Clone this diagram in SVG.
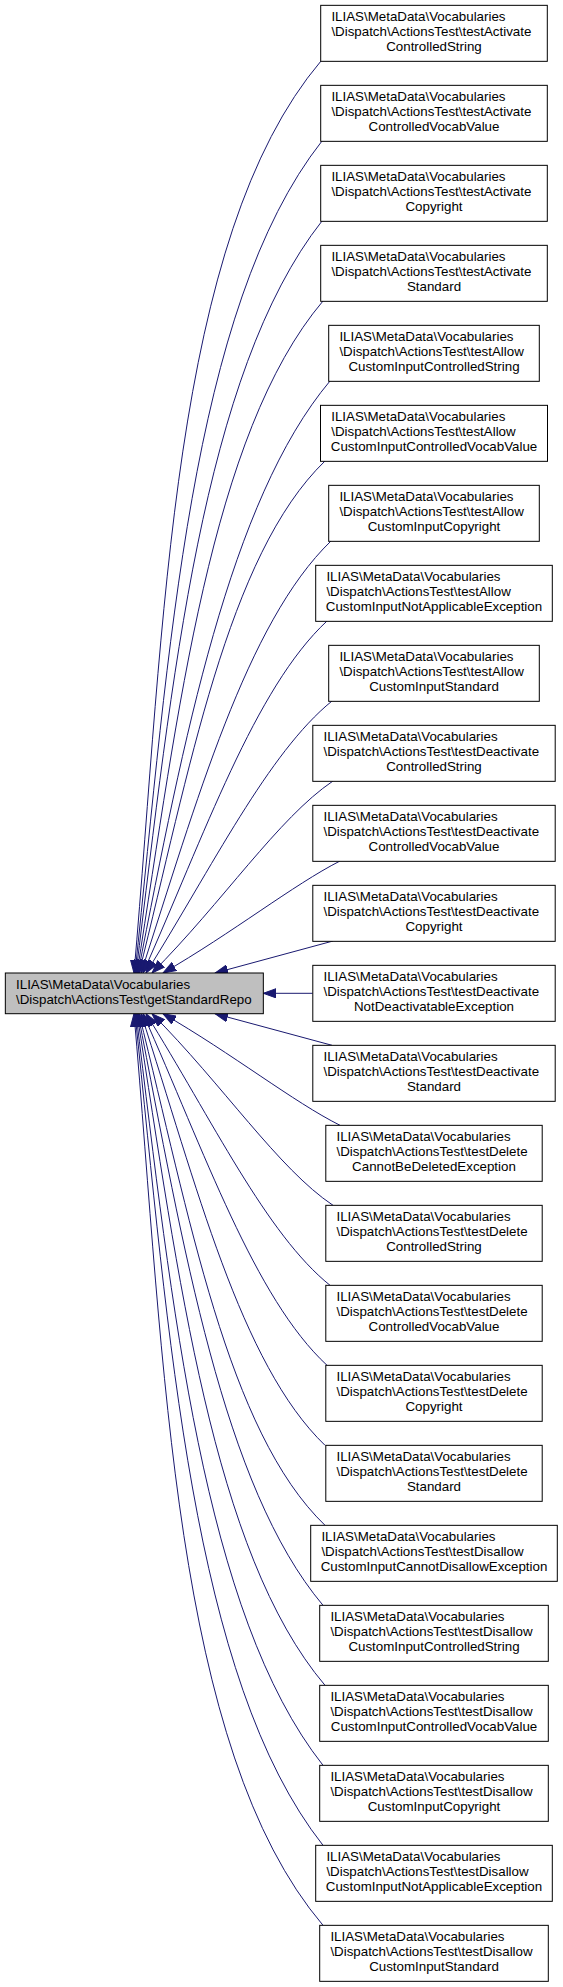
<svg xmlns="http://www.w3.org/2000/svg" width="563" height="1987" viewBox="0 0 563 1987">
<style>
.node rect{fill:#ffffff;stroke:#000000;stroke-width:1}
.main rect{fill:#bfbfbf}
text{font-family:"Liberation Sans",Arial,Helvetica,sans-serif;font-size:13.33px;fill:#000000}
.l{text-anchor:start}
.c{text-anchor:middle}
.edges path{fill:none;stroke:#191970;stroke-width:1;marker-end:url(#ah)}
</style>
<defs>
<marker id="ah" markerUnits="userSpaceOnUse" markerWidth="14" markerHeight="10" refX="13" refY="5" orient="auto">
<path d="M0,0.3 L13,5 L0,9.7 Z" fill="#191970" stroke="#191970" stroke-width="1"/>
</marker>
</defs>
<rect x="0" y="0" width="563" height="1987" fill="#ffffff"/>
<g class="edges" id="edges">
<path d="M321,61 C171.2,238 164.8,620.4 134,973"/>
<path d="M322,141 C190.8,307.8 169,650.6 135,973"/>
<path d="M322,221 C202.5,372.9 172,680.1 136,973"/>
<path d="M323,301 C210.5,434.1 178.3,711.2 137,973"/>
<path d="M330,381 C229.7,500.5 183.3,740.3 138,973"/>
<path d="M325,461 C227.2,555.5 189.1,772.2 139,973"/>
<path d="M331,541 C246.2,623 196.3,802.8 141,973"/>
<path d="M327,621 C254.6,688.5 204.5,835 143,973"/>
<path d="M332,701 C268.3,752.6 212.3,867 146,973"/>
<path d="M333,781 C278.3,817.9 222.7,902.3 152,973"/>
<path d="M340,861 C293.7,884.6 232.3,933 163,973"/>
<path d="M333,941 L215,973"/>
<path d="M312.7,993.3 L263.3,993.3"/>
<path d="M332,1045.3 L215,1013.7"/>
<path d="M340,1125.3 C293.7,1102.1 232.3,1053.7 163,1013.7"/>
<path d="M333,1205.3 C278.3,1168.8 222.7,1084.4 152,1013.7"/>
<path d="M330,1285.3 C266.3,1234.1 212.3,1119.7 146,1013.7"/>
<path d="M327,1365.3 C254.6,1298.2 204.5,1151.7 143,1013.7"/>
<path d="M325,1445.3 C240.2,1363.7 196.3,1183.9 141,1013.7"/>
<path d="M325,1525.3 C227.2,1431.2 189.1,1214.5 139,1013.7"/>
<path d="M323,1605.3 C222.7,1486.2 183.3,1246.4 138,1013.7"/>
<path d="M325,1685.3 C212.5,1552.6 178.3,1275.5 137,1013.7"/>
<path d="M323,1765.3 C203.5,1613.8 172,1306.6 136,1013.7"/>
<path d="M323,1845.3 C191.8,1678.9 169,1336.1 135,1013.7"/>
<path d="M323,1925.3 C173.2,1748.7 164.8,1366.3 134,1013.7"/>
</g>
<g class="node main" id="getStandardRepo" transform="translate(5.33,973)">
<rect x="0" y="0" width="258" height="40.7"/>
<text class="l" x="10.7" y="15.8">ILIAS\MetaData\Vocabularies</text>
<text class="l" x="10.7" y="30.8">\Dispatch\ActionsTest\getStandardRepo</text>
</g>
<g class="node" id="n0" transform="translate(320.7,5.33)">
<rect x="0" y="0" width="226.6" height="56"/>
<text class="l" x="10.7" y="16">ILIAS\MetaData\Vocabularies</text>
<text class="l" x="10.7" y="31">\Dispatch\ActionsTest\testActivate</text>
<text class="c" x="113.3" y="46">ControlledString</text>
</g>
<g class="node" id="n1" transform="translate(320.7,85.33)">
<rect x="0" y="0" width="226.6" height="56"/>
<text class="l" x="10.7" y="16">ILIAS\MetaData\Vocabularies</text>
<text class="l" x="10.7" y="31">\Dispatch\ActionsTest\testActivate</text>
<text class="c" x="113.3" y="46">ControlledVocabValue</text>
</g>
<g class="node" id="n2" transform="translate(320.7,165.33)">
<rect x="0" y="0" width="226.6" height="56"/>
<text class="l" x="10.7" y="16">ILIAS\MetaData\Vocabularies</text>
<text class="l" x="10.7" y="31">\Dispatch\ActionsTest\testActivate</text>
<text class="c" x="113.3" y="46">Copyright</text>
</g>
<g class="node" id="n3" transform="translate(320.7,245.33)">
<rect x="0" y="0" width="226.6" height="56"/>
<text class="l" x="10.7" y="16">ILIAS\MetaData\Vocabularies</text>
<text class="l" x="10.7" y="31">\Dispatch\ActionsTest\testActivate</text>
<text class="c" x="113.3" y="46">Standard</text>
</g>
<g class="node" id="n4" transform="translate(328.7,325.33)">
<rect x="0" y="0" width="210.6" height="56"/>
<text class="l" x="10.7" y="16">ILIAS\MetaData\Vocabularies</text>
<text class="l" x="10.7" y="31">\Dispatch\ActionsTest\testAllow</text>
<text class="c" x="105.3" y="46">CustomInputControlledString</text>
</g>
<g class="node" id="n5" transform="translate(320.5,405.33)">
<rect x="0" y="0" width="227" height="56"/>
<text class="l" x="10.7" y="16">ILIAS\MetaData\Vocabularies</text>
<text class="l" x="10.7" y="31">\Dispatch\ActionsTest\testAllow</text>
<text class="c" x="113.5" y="46">CustomInputControlledVocabValue</text>
</g>
<g class="node" id="n6" transform="translate(328.7,485.33)">
<rect x="0" y="0" width="210.6" height="56"/>
<text class="l" x="10.7" y="16">ILIAS\MetaData\Vocabularies</text>
<text class="l" x="10.7" y="31">\Dispatch\ActionsTest\testAllow</text>
<text class="c" x="105.3" y="46">CustomInputCopyright</text>
</g>
<g class="node" id="n7" transform="translate(315.7,565.33)">
<rect x="0" y="0" width="236.6" height="56"/>
<text class="l" x="10.7" y="16">ILIAS\MetaData\Vocabularies</text>
<text class="l" x="10.7" y="31">\Dispatch\ActionsTest\testAllow</text>
<text class="c" x="118.3" y="46">CustomInputNotApplicableException</text>
</g>
<g class="node" id="n8" transform="translate(328.7,645.33)">
<rect x="0" y="0" width="210.6" height="56"/>
<text class="l" x="10.7" y="16">ILIAS\MetaData\Vocabularies</text>
<text class="l" x="10.7" y="31">\Dispatch\ActionsTest\testAllow</text>
<text class="c" x="105.3" y="46">CustomInputStandard</text>
</g>
<g class="node" id="n9" transform="translate(312.8,725.33)">
<rect x="0" y="0" width="242.4" height="56"/>
<text class="l" x="10.7" y="16">ILIAS\MetaData\Vocabularies</text>
<text class="l" x="10.7" y="31">\Dispatch\ActionsTest\testDeactivate</text>
<text class="c" x="121.2" y="46">ControlledString</text>
</g>
<g class="node" id="n10" transform="translate(312.8,805.33)">
<rect x="0" y="0" width="242.4" height="56"/>
<text class="l" x="10.7" y="16">ILIAS\MetaData\Vocabularies</text>
<text class="l" x="10.7" y="31">\Dispatch\ActionsTest\testDeactivate</text>
<text class="c" x="121.2" y="46">ControlledVocabValue</text>
</g>
<g class="node" id="n11" transform="translate(312.8,885.33)">
<rect x="0" y="0" width="242.4" height="56"/>
<text class="l" x="10.7" y="16">ILIAS\MetaData\Vocabularies</text>
<text class="l" x="10.7" y="31">\Dispatch\ActionsTest\testDeactivate</text>
<text class="c" x="121.2" y="46">Copyright</text>
</g>
<g class="node" id="n12" transform="translate(312.8,965.33)">
<rect x="0" y="0" width="242.4" height="56"/>
<text class="l" x="10.7" y="16">ILIAS\MetaData\Vocabularies</text>
<text class="l" x="10.7" y="31">\Dispatch\ActionsTest\testDeactivate</text>
<text class="c" x="121.2" y="46">NotDeactivatableException</text>
</g>
<g class="node" id="n13" transform="translate(312.8,1045.33)">
<rect x="0" y="0" width="242.4" height="56"/>
<text class="l" x="10.7" y="16">ILIAS\MetaData\Vocabularies</text>
<text class="l" x="10.7" y="31">\Dispatch\ActionsTest\testDeactivate</text>
<text class="c" x="121.2" y="46">Standard</text>
</g>
<g class="node" id="n14" transform="translate(325.8,1125.33)">
<rect x="0" y="0" width="216.4" height="56"/>
<text class="l" x="10.7" y="16">ILIAS\MetaData\Vocabularies</text>
<text class="l" x="10.7" y="31">\Dispatch\ActionsTest\testDelete</text>
<text class="c" x="108.2" y="46">CannotBeDeletedException</text>
</g>
<g class="node" id="n15" transform="translate(325.8,1205.33)">
<rect x="0" y="0" width="216.4" height="56"/>
<text class="l" x="10.7" y="16">ILIAS\MetaData\Vocabularies</text>
<text class="l" x="10.7" y="31">\Dispatch\ActionsTest\testDelete</text>
<text class="c" x="108.2" y="46">ControlledString</text>
</g>
<g class="node" id="n16" transform="translate(325.8,1285.33)">
<rect x="0" y="0" width="216.4" height="56"/>
<text class="l" x="10.7" y="16">ILIAS\MetaData\Vocabularies</text>
<text class="l" x="10.7" y="31">\Dispatch\ActionsTest\testDelete</text>
<text class="c" x="108.2" y="46">ControlledVocabValue</text>
</g>
<g class="node" id="n17" transform="translate(325.8,1365.33)">
<rect x="0" y="0" width="216.4" height="56"/>
<text class="l" x="10.7" y="16">ILIAS\MetaData\Vocabularies</text>
<text class="l" x="10.7" y="31">\Dispatch\ActionsTest\testDelete</text>
<text class="c" x="108.2" y="46">Copyright</text>
</g>
<g class="node" id="n18" transform="translate(325.8,1445.33)">
<rect x="0" y="0" width="216.4" height="56"/>
<text class="l" x="10.7" y="16">ILIAS\MetaData\Vocabularies</text>
<text class="l" x="10.7" y="31">\Dispatch\ActionsTest\testDelete</text>
<text class="c" x="108.2" y="46">Standard</text>
</g>
<g class="node" id="n19" transform="translate(310.7,1525.33)">
<rect x="0" y="0" width="246.6" height="56"/>
<text class="l" x="10.7" y="16">ILIAS\MetaData\Vocabularies</text>
<text class="l" x="10.7" y="31">\Dispatch\ActionsTest\testDisallow</text>
<text class="c" x="123.3" y="46">CustomInputCannotDisallowException</text>
</g>
<g class="node" id="n20" transform="translate(319.7,1605.33)">
<rect x="0" y="0" width="228.6" height="56"/>
<text class="l" x="10.7" y="16">ILIAS\MetaData\Vocabularies</text>
<text class="l" x="10.7" y="31">\Dispatch\ActionsTest\testDisallow</text>
<text class="c" x="114.3" y="46">CustomInputControlledString</text>
</g>
<g class="node" id="n21" transform="translate(319.7,1685.33)">
<rect x="0" y="0" width="228.6" height="56"/>
<text class="l" x="10.7" y="16">ILIAS\MetaData\Vocabularies</text>
<text class="l" x="10.7" y="31">\Dispatch\ActionsTest\testDisallow</text>
<text class="c" x="114.3" y="46">CustomInputControlledVocabValue</text>
</g>
<g class="node" id="n22" transform="translate(319.7,1765.33)">
<rect x="0" y="0" width="228.6" height="56"/>
<text class="l" x="10.7" y="16">ILIAS\MetaData\Vocabularies</text>
<text class="l" x="10.7" y="31">\Dispatch\ActionsTest\testDisallow</text>
<text class="c" x="114.3" y="46">CustomInputCopyright</text>
</g>
<g class="node" id="n23" transform="translate(315.7,1845.33)">
<rect x="0" y="0" width="236.6" height="56"/>
<text class="l" x="10.7" y="16">ILIAS\MetaData\Vocabularies</text>
<text class="l" x="10.7" y="31">\Dispatch\ActionsTest\testDisallow</text>
<text class="c" x="118.3" y="46">CustomInputNotApplicableException</text>
</g>
<g class="node" id="n24" transform="translate(319.7,1925.33)">
<rect x="0" y="0" width="228.6" height="56"/>
<text class="l" x="10.7" y="16">ILIAS\MetaData\Vocabularies</text>
<text class="l" x="10.7" y="31">\Dispatch\ActionsTest\testDisallow</text>
<text class="c" x="114.3" y="46">CustomInputStandard</text>
</g>
</svg>
